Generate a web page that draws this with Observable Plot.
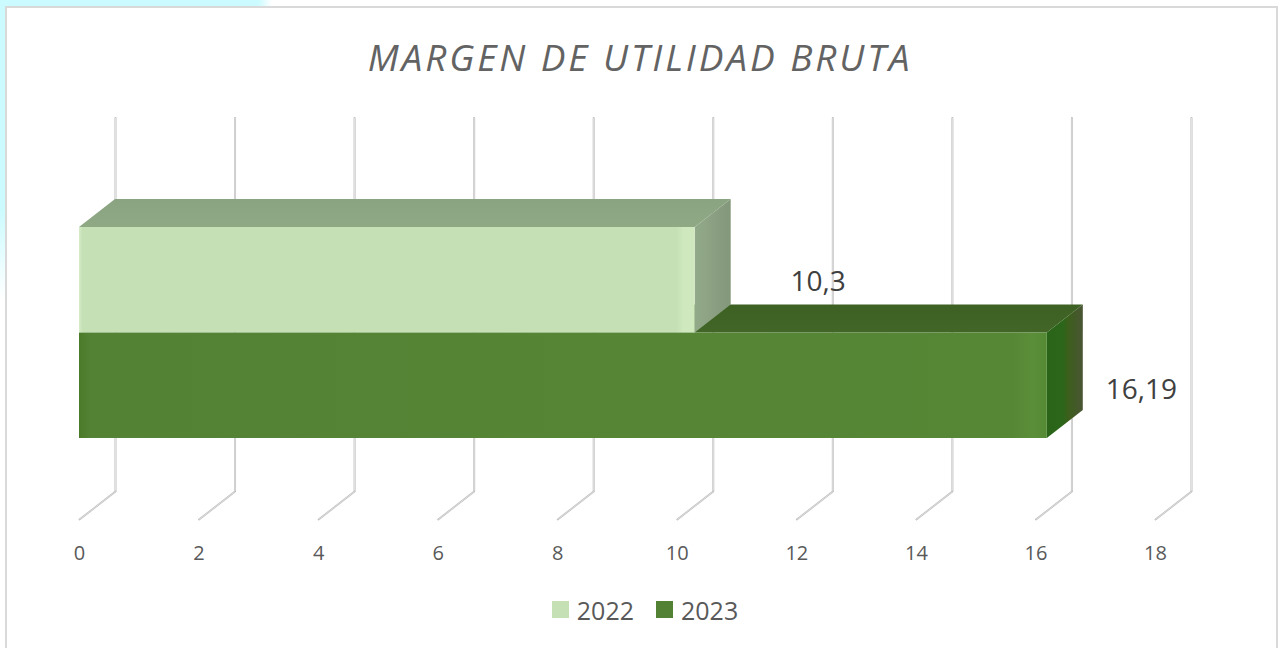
<!DOCTYPE html>
<html lang="es">
<head>
<meta charset="utf-8">
<script src="https://cdn.jsdelivr.net/npm/d3@7"></script>
<script src="https://cdn.jsdelivr.net/npm/@observablehq/plot@0.6"></script>
<style>
  html, body { margin: 0; padding: 0; width: 1280px; height: 648px; overflow: hidden; }
  body {
    position: relative;
    font-family: "Open Sans", sans-serif;
    background-color: #fff;
    background-image:
      linear-gradient(90deg, #ccfbff 0%, #ccfbff 95%, #fff 100%),
      linear-gradient(180deg, #ccfbff 0%, #ccfbff 70%, #fff 100%);
    background-size: 272px 6px, 5px 300px;
    background-position: 0 0, 0 0;
    background-repeat: no-repeat;
  }
  #frame { position: absolute; left: 5px; top: 6px; width: 1269px; height: 700px; border: 2px solid #d9d9d9; background: #fff; }
  #content { position: absolute; left: 0; top: 0; width: 1280px; }
  #title { height: 100px; line-height: 114px; text-align: center; font-style: italic; font-size: 37px; letter-spacing: 2.9px; font-weight: 400; color: #636363; }
  #chart svg { display: block; background: transparent; }
  #legend { display: flex; justify-content: center; align-items: center; height: 58px; padding-left: 10px; box-sizing: border-box; padding-bottom: 19px; font-size: 25px; color: #595959; }
  #legend .sw { width: 17px; height: 17px; margin-right: 8px; }
  #legend .it { display: flex; align-items: center; margin: 0 11px; }
</style>
</head>
<body>
<div id="frame"></div>
<div id="content">
  <div id="title"></div>
  <div id="chart"></div>
  <div id="legend"></div>
</div>
<script>
const chartTitle = "MARGEN DE UTILIDAD BRUTA";
const years = ["2022", "2023"];
const values = [10.3, 16.19];
const valueLabels = ["10,3", "16,19"];
const tickValues = [0, 2, 4, 6, 8, 10, 12, 14, 16, 18];
const frontColors = ["#c5e0b4", "#548235"];

// Depth of the 3D box, in x-scale units and in bar-height units.
const depthX = 0.602, depthY = 0.265;
const floorLevel = -0.768, ceilLevel = 2.768;

const bars = years.map((year, i) => ({
  year, i, value: values[i], label: valueLabels[i], level: years.length - 1 - i
}));

document.getElementById("title").textContent = chartTitle;

function gradients() {
  const defs = d3.create("svg:defs");
  const add = (id, x2, y2, stops) => {
    const g = defs.append("linearGradient").attr("id", id)
      .attr("x1", 0).attr("y1", 0).attr("x2", x2).attr("y2", y2);
    stops.forEach(([o, c]) => g.append("stop").attr("offset", o).attr("stop-color", c));
  };
  add("front0", 1, 0, [[0, "#d6ebc8"], [0.006, "#c5e0b4"], [0.97, "#c5e0b4"], [0.982, "#cfe8be"], [1, "#cfe8be"]]);
  add("front1", 1, 0, [[0, "#4a7a29"], [0.012, "#548235"], [0.965, "#568735"], [0.985, "#5b8e39"], [1, "#558a35"]]);
  add("top0", 0, 1, [[0, "#8aa381"], [1, "#8fa985"]]);
  add("top1", 0, 1, [[0, "#3d6023"], [1, "#426627"]]);
  add("side0", 1, 0, [[0, "#93aa8a"], [1, "#83977a"]]);
  add("side1", 1, 0, [[0, "#2a6419"], [0.45, "#2c661a"], [0.6, "#3c5f1c"], [1, "#4a5534"]]);
  return defs.node();
}

const plot = Plot.plot({
  width: 1280,
  height: 490,
  marginLeft: 79,
  marginRight: 125,
  marginTop: 46,
  marginBottom: 71,
  style: { background: "transparent", fontFamily: "Open Sans" },
  x: { domain: [tickValues[0], tickValues[tickValues.length - 1]] },
  y: { domain: [floorLevel, ceilLevel], axis: null },
  marks: [
    gradients,
    // back wall and floor gridlines
    Plot.ruleX(tickValues, { x: d => d + depthX, y1: floorLevel + depthY, y2: ceilLevel + depthY, stroke: "#bdbdbd", strokeWidth: 2, strokeLinecap: "round" }),
    Plot.ruleX(tickValues, { x: d => d + depthX, y1: floorLevel + depthY, y2: ceilLevel + depthY, stroke: "#f2f2f2", strokeWidth: 0.7 }),
    Plot.link(tickValues, { x1: d => d, y1: floorLevel, x2: d => d + depthX, y2: floorLevel + depthY, stroke: "#bdbdbd", strokeWidth: 1.8, strokeLinecap: "round" }),
    Plot.link(tickValues, { x1: d => d, y1: floorLevel, x2: d => d + depthX, y2: floorLevel + depthY, stroke: "#f2f2f2", strokeWidth: 0.6 }),
    // boxes, lower bar first so the upper one sits in front of its top face
    ...[1, 0].flatMap(i => {
      const b = bars[i];
      return [
        Plot.areaX([
          { y: b.level + 1, x1: 0, x2: b.value },
          { y: b.level + 1 + depthY, x1: depthX, x2: b.value + depthX }
        ], { y: "y", x1: "x1", x2: "x2", fill: `url(#top${i})` }),
        Plot.areaY([
          { x: b.value, y1: b.level, y2: b.level + 1 },
          { x: b.value + depthX, y1: b.level + depthY, y2: b.level + 1 + depthY }
        ], { x: "x", y1: "y1", y2: "y2", fill: `url(#side${i})` }),
        Plot.rect([b], { x1: 0, x2: "value", y1: "level", y2: d => d.level + 1, fill: `url(#front${i})` })
      ];
    }),
    // data labels
    Plot.text([bars[0]], { x: "value", y: d => d.level + 0.5, text: "label", dx: 123, dy: 2, fontSize: 28, fill: "#404040" }),
    Plot.text([bars[1]], { x: "value", y: d => d.level + 0.5, text: "label", dx: 94, dy: 4, fontSize: 28, fill: "#404040" }),
    // axis labels
    Plot.axisX(tickValues, { anchor: "bottom", tickSize: 0, tickPadding: 26, label: null, fontSize: 20, color: "#595959", tickFormat: d => String(d) })
  ]
});
document.getElementById("chart").append(plot);

const legend = d3.select("#legend");
years.forEach((y, i) => {
  const it = legend.append("div").attr("class", "it");
  it.append("div").attr("class", "sw").style("background", frontColors[i]);
  it.append("span").text(y);
});
</script>
</body>
</html>
